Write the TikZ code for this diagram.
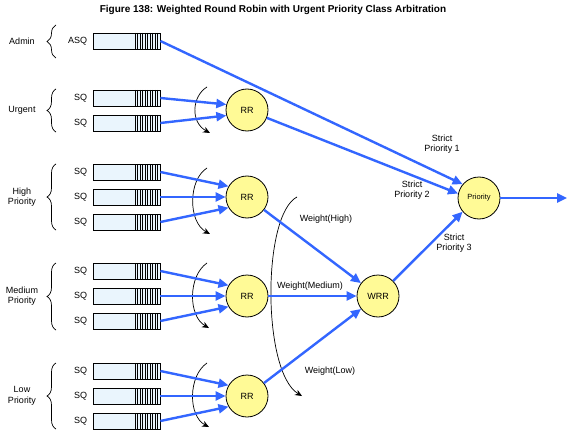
\documentclass[tikz,border=0pt]{standalone}
\usepackage{fontspec}
\setmainfont{Liberation Sans}
\usetikzlibrary{arrows.meta,shapes,decorations.pathreplacing}
\definecolor{qfill}{RGB}{234,245,253}
\definecolor{cfill}{RGB}{255,250,150}
\definecolor{flow}{RGB}{51,102,255}
\tikzstyle{queue}=[rectangle,draw=black,line width=0.8pt,fill=qfill,minimum width=67pt,minimum height=16pt,inner sep=0pt,
  path picture={\foreach \i in {0,...,10} \draw[line width=0.6pt] ([xshift=-\i*2.5pt]path picture bounding box.north east) -- ([xshift=-\i*2.5pt]path picture bounding box.south east);}]
\tikzstyle{sq}=[queue,label={[font=\fontsize{9}{10}\selectfont,label distance=2pt]left:SQ}]
\tikzstyle{sched}=[circle,draw=black,line width=0.8pt,fill=cfill,minimum size=42pt,inner sep=0pt,font=\fontsize{9}{10}\selectfont]
\tikzstyle{grp}=[align=center,font=\fontsize{9}{10.5}\selectfont]
\tikzstyle{flw}=[-{Triangle[length=10pt,width=9pt]},draw=flow,line width=2.4pt]
\tikzstyle{turn}=[-{Stealth[length=7pt,width=6pt]},line width=0.7pt]
\tikzstyle{grpbrace}=[decorate,decoration={brace,amplitude=9pt},line width=0.7pt]

\begin{document}
\begin{tikzpicture}[x=1pt,y=-1pt]
\useasboundingbox (0,0) rectangle (570,441);
\node[font=\bfseries\fontsize{10}{12}\selectfont] (title) at (273,10) {Figure 138: Weighted Round Robin with Urgent Priority Class Arbitration};
% source queues
\node[queue,label={[font=\fontsize{9}{10}\selectfont,label distance=2pt]left:ASQ}] (ASQ) at (126.5,41) {};
\node[sq] (U1) at (126.5,98) {};
\node[sq] (U2) at (126.5,123) {};
\node[sq] (H1) at (126.5,172) {};
\node[sq] (H2) at (126.5,197) {};
\node[sq] (H3) at (126.5,222) {};
\node[sq] (M1) at (126.5,271) {};
\node[sq] (M2) at (126.5,296) {};
\node[sq] (M3) at (126.5,321) {};
\node[sq] (L1) at (126.5,371) {};
\node[sq] (L2) at (126.5,396) {};
\node[sq] (L3) at (126.5,421) {};
% classes
\node[grp] (gA) at (22,41) {Admin};
\node[grp] (gU) at (22,110) {Urgent};
\node[grp] (gH) at (22,197) {High\\Priority};
\node[grp] (gM) at (22,296) {Medium\\Priority};
\node[grp] (gL) at (22,396) {Low\\Priority};
\draw[grpbrace] (56,58) -- (56,25);
\draw[grpbrace] (56,132) -- (56,89);
\draw[grpbrace] (56,230) -- (56,164);
\draw[grpbrace] (56,330) -- (56,263);
\draw[grpbrace] (56,429) -- (56,363);
% arbiters
\node[sched] (RRU) at (247,110) {RR};
\node[sched] (RRH) at (247,197) {RR};
\node[sched] (RRM) at (247,296) {RR};
\node[sched] (RRL) at (247,396) {RR};
\node[sched] (WRR) at (378,296) {WRR};
\node[sched,font=\fontsize{7.5}{9}\selectfont] (P) at (479,198) {Priority};
\coordinate (out) at (567,198);
% round robin turns
\draw[turn] (207,87) .. controls (192,96) and (190,122) .. (210,133);
\draw[turn] (207,168) .. controls (188,180) and (188,222) .. (210,234);
\draw[turn] (207,263) .. controls (188,276) and (188,316) .. (209,328);
\draw[turn] (207,363) .. controls (188,376) and (188,416) .. (209,427);
\draw[turn] (297,197) .. controls (262,215) and (262,372) .. (302,396);
% flows
\draw[flw] (U1.east)--(RRU.165);\draw[flw] (U2.east)--(RRU.195);
\draw[flw] (H1.east)--(RRH.150);\draw[flw] (H2.east)--(RRH.west);\draw[flw] (H3.east)--(RRH.210);
\draw[flw] (M1.east)--(RRM.150);\draw[flw] (M2.east)--(RRM.west);\draw[flw] (M3.east)--(RRM.210);
\draw[flw] (L1.east)--(RRL.150);\draw[flw] (L2.east)--(RRL.west);\draw[flw] (L3.east)--(RRL.210);
\draw[flw] (RRH)--(WRR);\draw[flw] (RRM)--(WRR);\draw[flw] (RRL)--(WRR);
\draw[flw] (ASQ.east)--(P.140);\draw[flw] (RRU)--(P.168);\draw[flw] (WRR)--(P.220);
\draw[flw] (P)--(out);
% weights
\node[grp] (wH) at (326,219) {Weight(High)};
\node[grp] (wM) at (310,286) {Weight(Medium)};
\node[grp] (wL) at (330,371) {Weight(Low)};
\node[grp] (s1) at (442,144) {Strict\\Priority 1};
\node[grp] (s2) at (412,190) {Strict\\Priority 2};
\node[grp] (s3) at (454,243) {Strict\\Priority 3};
\end{tikzpicture}
\end{document}
